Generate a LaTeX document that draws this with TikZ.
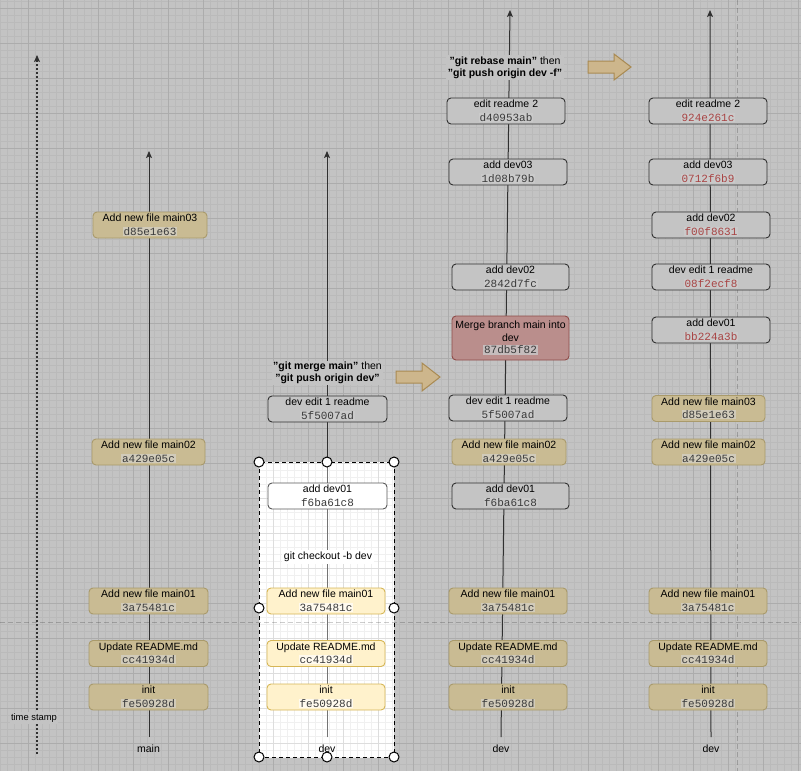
\documentclass[tikz,border=0pt]{standalone}
\usepackage{fontspec}
\setmainfont{Liberation Sans}
\newfontfamily\hashfont{Liberation Mono}
\usetikzlibrary{arrows.meta}
\definecolor{bgc}{HTML}{C3C3C3}
\definecolor{minorg}{HTML}{BABABA}
\definecolor{majorg}{HTML}{ACACAC}
\definecolor{selminor}{HTML}{F0F0F0}
\definecolor{selmajor}{HTML}{DDDDDD}
\definecolor{tanfill}{HTML}{C9BB93}
\definecolor{tandraw}{HTML}{A99A6B}
\definecolor{yelfill}{HTML}{FFF2CC}
\definecolor{yeldraw}{HTML}{D6B656}
\definecolor{redfill}{HTML}{BA8E8C}
\definecolor{reddraw}{HTML}{8F4C49}
\definecolor{grayfill}{HTML}{C4C4C4}
\definecolor{darkline}{HTML}{303030}
\definecolor{hltan}{HTML}{D1CBBA}
\definecolor{hlgray}{HTML}{CACACA}
\definecolor{hlyel}{HTML}{FFFAEE}
\definecolor{hlred}{HTML}{C6BDBD}
\definecolor{hashdark}{HTML}{3A3A3A}
\definecolor{hashred}{HTML}{A84444}
\definecolor{arrfill}{HTML}{CDB68C}
\definecolor{arrdraw}{HTML}{A98A52}
\colorlet{hl}{white}
\colorlet{hashc}{hashdark}
\setlength{\fboxsep}{0.6pt}
\newcommand\hsh[1]{{\fontsize{11}{13.5}\hashfont\colorbox{hl}{\textcolor{hashc}{#1}}}}
\newcommand\qq{\char34\relax}
\begin{document}
\begin{tikzpicture}[x=1pt,y=-1pt,
  commit/.style={rounded corners=4, draw, line width=0.9pt, minimum height=26, inner sep=0,
    align=center, font=\fontsize{10.5}{13.5}\selectfont, text=black},
  tanbox/.style={commit, fill=tanfill, draw=tandraw, execute at begin node={\colorlet{hl}{hltan}}},
  yelbox/.style={commit, fill=yelfill, draw=yeldraw, execute at begin node={\colorlet{hl}{hlyel}}},
  graybox/.style={commit, fill=grayfill, draw=darkline, execute at begin node={\colorlet{hl}{hlgray}}},
  whitebox/.style={commit, fill=white, draw=darkline!80, execute at begin node={\colorlet{hl}{white}}},
  redbox/.style={commit, fill=redfill, draw=reddraw, minimum height=44, font=\fontsize{10.5}{12.5}\selectfont,
    execute at begin node={\colorlet{hl}{hlred}}},
  rebased/.style={graybox, execute at begin node={\colorlet{hl}{hlgray}\colorlet{hashc}{hashred}}},
  colline/.style={draw=darkline, line width=1pt, -{Stealth[length=7pt,width=6pt,inset=1.5pt]}},
  lbl/.style={font=\fontsize{10.5}{12}\selectfont, inner sep=1},
  cmd/.style={font=\fontsize{10.5}{12}\selectfont, align=center, inner sep=1.5, fill=bgc},
  blockarrow/.style={fill=arrfill, draw=arrdraw, line width=1pt, line join=miter},
  guide/.style={draw=black, draw opacity=0.2, line width=1pt, dash pattern=on 5pt off 3pt},
  handle/.style={circle, fill=white, draw=black, line width=1pt, minimum size=10, inner sep=0}
]
\useasboundingbox (0,0) rectangle (801,771);
% background and grid
\fill[bgc] (0,0) rectangle (801,771);
\foreach \x in {0,7,...,798} \draw[minorg, line width=0.7pt] (\x,0) -- (\x,771);
\foreach \y in {1,8,...,771} \draw[minorg, line width=0.7pt] (0,\y) -- (801,\y);
\foreach \x in {28,63,...,798} \draw[majorg, line width=0.8pt] (\x,0) -- (\x,771);
\foreach \y in {8,43,...,771} \draw[majorg, line width=0.8pt] (0,\y) -- (801,\y);
% selection area
\fill[white] (259,462) rectangle (394,757);
\begin{scope}
  \clip (259,462) rectangle (394,757);
  \foreach \x in {259,266,...,399} \draw[selminor, line width=0.7pt] (\x,462) -- (\x,757);
  \foreach \y in {463,470,...,757} \draw[selminor, line width=0.7pt] (259,\y) -- (394,\y);
  \foreach \x in {273,308,343,378} \draw[selmajor, line width=0.8pt] (\x,462) -- (\x,757);
  \foreach \y in {463,498,533,568,603,638,673,708,743} \draw[selmajor, line width=0.8pt] (259,\y) -- (394,\y);
\end{scope}
% guides
\draw[guide] (0,622) -- (801,622);
\draw[guide] (737,0) -- (737,771);
% column lines
\coordinate (c1b) at (149,737); \coordinate (c1t) at (149,151);
\coordinate (c2b) at (327,737); \coordinate (c2t) at (327,151);
\coordinate (c3b) at (501,737); \coordinate (c3t) at (510,10);
\coordinate (c4b) at (711,737); \coordinate (c4t) at (710,10);
\coordinate (tsb) at (37,754); \coordinate (tst) at (37,55);
\draw[colline] (c1b) -- (c1t);
\draw[colline] (c2b) -- (c2t);
\begin{scope}
  \clip (259,462) rectangle (394,757);
  \draw[draw=black!55, line width=1pt] (c2b) -- (c2t);
\end{scope}
\draw[colline] (c3b) -- (c3t);
\draw[colline] (c4b) -- (c4t);
\draw[draw=darkline, line width=1.1pt, dash pattern=on 2pt off 2pt, -{Stealth[length=7pt,width=6pt,inset=1.5pt]}] (tsb) -- (tst);
% column 1: main
\node[tanbox, minimum width=114] (a1) at (150,225) {Add new file main03\\\hsh{d85e1e63}};
\node[tanbox, minimum width=113] (a2) at (148.5,452) {Add new file main02\\\hsh{a429e05c}};
\node[tanbox, minimum width=119] (a3) at (148.5,601) {Add new file main01\\\hsh{3a75481c}};
\node[tanbox, minimum width=119] (a4) at (148.5,653.5) {Update README.md\\\hsh{cc41934d}};
\node[tanbox, minimum width=119] (a5) at (148.5,697) {init\\\hsh{fe50928d}};
\node[lbl] (la) at (148.5,749) {main};
% column 2: dev
\node[graybox, minimum width=119] (b1) at (327.5,409) {dev edit 1 readme\\\hsh{5f5007ad}};
\node[whitebox, minimum width=119] (b2) at (327.5,496) {add dev01\\\hsh{f6ba61c8}};
\node[lbl, fill=white, inner sep=2] (bco) at (328,557) {git checkout -b dev};
\node[yelbox, minimum width=118] (b3) at (326,601) {Add new file main01\\\hsh{3a75481c}};
\node[yelbox, minimum width=118] (b4) at (326,653.5) {Update README.md\\\hsh{cc41934d}};
\node[yelbox, minimum width=118] (b5) at (326,697) {init\\\hsh{fe50928d}};
\node[lbl] (lb) at (327,749) {dev};
\node[cmd] (mcmd) at (327.5,373) {{\bfseries \qq git merge main\qq} then\\{\bfseries \qq git push origin dev\qq}};
% column 3
\node[graybox, minimum width=118] (c1) at (506,111) {edit readme 2\\\hsh{d40953ab}};
\node[graybox, minimum width=118] (c2) at (508,172) {add dev03\\\hsh{1d08b79b}};
\node[graybox, minimum width=117] (c3) at (510.5,277) {add dev02\\\hsh{2842d7fc}};
\node[redbox, minimum width=117] (c4) at (510.5,338) {Merge branch main into\\dev\\\hsh{87db5f82}};
\node[graybox, minimum width=118] (c5) at (508,408) {dev edit 1 readme\\\hsh{5f5007ad}};
\node[tanbox, minimum width=114] (c6) at (509,452) {Add new file main02\\\hsh{a429e05c}};
\node[graybox, minimum width=117] (c7) at (510.5,496) {add dev01\\\hsh{f6ba61c8}};
\node[tanbox, minimum width=118] (c8) at (508,601) {Add new file main01\\\hsh{3a75481c}};
\node[tanbox, minimum width=118] (c9) at (508,653.5) {Update README.md\\\hsh{cc41934d}};
\node[tanbox, minimum width=118] (c10) at (508,697) {init\\\hsh{fe50928d}};
\node[lbl] (lc) at (501,749) {dev};
\node[cmd] (rcmd) at (505,67.5) {{\bfseries \qq git rebase main\qq} then\\{\bfseries \qq git push origin dev -f\qq}};
% column 4
\node[rebased, minimum width=118] (d1) at (708,111) {edit readme 2\\\hsh{924e261c}};
\node[rebased, minimum width=118] (d2) at (708,172) {add dev03\\\hsh{0712f6b9}};
\node[rebased, minimum width=118] (d3) at (711,225) {add dev02\\\hsh{f00f8631}};
\node[rebased, minimum width=118] (d4) at (711,277) {dev edit 1 readme\\\hsh{08f2ecf8}};
\node[rebased, minimum width=118] (d5) at (711,330) {add dev01\\\hsh{bb224a3b}};
\node[tanbox, minimum width=113] (d6) at (708.5,408.5) {Add new file main03\\\hsh{d85e1e63}};
\node[tanbox, minimum width=113] (d7) at (708.5,452) {Add new file main02\\\hsh{a429e05c}};
\node[tanbox, minimum width=118] (d8) at (708,601) {Add new file main01\\\hsh{3a75481c}};
\node[tanbox, minimum width=118] (d9) at (708,653.5) {Update README.md\\\hsh{cc41934d}};
\node[tanbox, minimum width=118] (d10) at (708,697) {init\\\hsh{fe50928d}};
\node[lbl] (ld) at (711,749) {dev};
% time stamp
\node[font=\fontsize{9.4}{11}\selectfont, fill=bgc, inner sep=1.5] (ts) at (34,718) {time stamp};
% block arrows
\draw[blockarrow] (396,371) -- (422,371) -- (422,363) -- (440,377) -- (422,391) -- (422,383) -- (396,383) -- cycle;
\draw[blockarrow] (588,61) -- (614,61) -- (614,54) -- (631,67) -- (614,80) -- (614,73) -- (588,73) -- cycle;
% selection frame and handles
\draw[black, line width=1pt, dash pattern=on 4pt off 3pt] (259,462) rectangle (394,757);
\foreach \p [count=\i] in {(259,462),(327,462),(394,462),(259,608),(394,608),(259,757),(327,757),(394,757)}
  \node[handle] (h\i) at \p {};
\end{tikzpicture}
\end{document}
